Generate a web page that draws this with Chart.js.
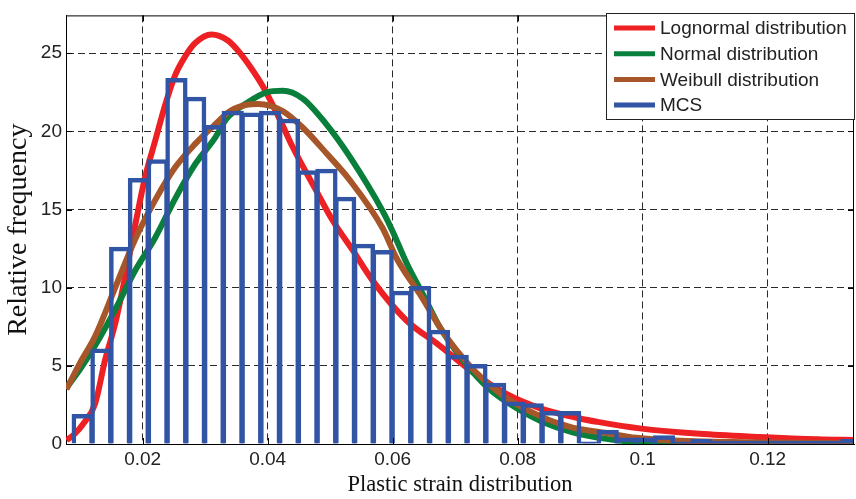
<!DOCTYPE html>
<html>
<head>
<meta charset="utf-8">
<title>Plastic strain distribution</title>
<script src="https://cdn.jsdelivr.net/npm/chart.js@4.4.1/dist/chart.umd.min.js"></script>
<style>
  html, body { margin: 0; padding: 0; background: #fff; }
  #wrap { width: 856px; height: 499px; }
</style>
</head>
<body>
<div id="wrap"><canvas id="chart" width="856" height="499"></canvas></div>
<script>
// MCS histogram: bin centres and relative frequency
const binCenters = [0.0104, 0.0134, 0.0164, 0.0194, 0.0224, 0.0254, 0.0284, 0.0314, 0.0344, 0.0374,
                    0.0404, 0.0434, 0.0464, 0.0494, 0.0524, 0.0554, 0.0584, 0.0614, 0.0644, 0.0674,
                    0.0704, 0.0734, 0.0764, 0.0794, 0.0824, 0.0854, 0.0884, 0.0914, 0.0944, 0.0974,
                    0.1004, 0.1034, 0.1064, 0.1094, 0.1124, 0.1154, 0.1184, 0.1214, 0.1244, 0.1274,
                    0.1304, 0.1334];
const mcsFreq = [1.8, 6.0, 12.5, 16.9, 18.1, 23.3, 22.1, 20.3, 21.2, 21.1,
                 21.2, 20.7, 17.4, 17.5, 15.7, 12.7, 12.3, 9.7, 10.0, 7.2,
                 5.6, 5.0, 3.8, 2.6, 2.5, 2.0, 2.0, 0.05, 0.8, 0.3,
                 0.3, 0.45, 0.05, 0.2, 0.1, 0.1, 0.1, 0.1, 0.1, 0.1,
                 0.1, 0.2];

// fitted curves
const lognormX = [0.0078, 0.0090, 0.0105, 0.0124, 0.0140, 0.0156, 0.0172, 0.0188, 0.0204, 0.0220,
                  0.0236, 0.0252, 0.0268, 0.0284, 0.0310, 0.0337, 0.0358, 0.0371, 0.0392, 0.0419,
                  0.0440, 0.0475, 0.0504, 0.0536, 0.0568, 0.0622, 0.0675, 0.0728, 0.0782, 0.0835,
                  0.0898, 0.0930, 0.0995, 0.1091, 0.1187, 0.1280, 0.1340];
const lognormY = [0.25, 0.6, 1.3, 2.6, 5.4, 7.7, 10.7, 14.0, 17.1, 19.4,
                  21.7, 23.6, 24.8, 25.65, 26.2, 25.8, 24.9, 24.2, 22.9, 20.8,
                  19.0, 16.4, 14.3, 12.4, 10.45, 7.9, 6.3, 4.6, 3.2, 2.3,
                  1.65, 1.4, 1.0, 0.65, 0.45, 0.3, 0.25];

const normalX = [0.0078, 0.0100, 0.0124, 0.0156, 0.0188, 0.0220, 0.0252, 0.0284, 0.0316, 0.0334,
                 0.0366, 0.0398, 0.0424, 0.0456, 0.0494, 0.0531, 0.0584, 0.0600, 0.0622, 0.0648,
                 0.0675, 0.0702, 0.0728, 0.0755, 0.0782, 0.0835, 0.0888, 0.0942, 0.0990, 0.1050,
                 0.1200, 0.1340];
const normalY = [3.6, 4.8, 6.3, 8.6, 11.1, 13.2, 15.7, 17.9, 19.6, 20.8,
                 21.8, 22.5, 22.6, 22.1, 20.45, 18.4, 14.9, 13.6, 11.6, 9.6,
                 7.5, 5.9, 4.6, 3.5, 2.7, 1.5, 0.75, 0.33, 0.12, 0.03,
                 0.0, 0.0];

const weibullX = [0.0078, 0.0100, 0.0124, 0.0156, 0.0188, 0.0220, 0.0252, 0.0284, 0.0316, 0.0340,
                  0.0366, 0.0385, 0.0424, 0.0456, 0.0494, 0.0531, 0.0584, 0.0606, 0.0648, 0.0675,
                  0.0702, 0.0728, 0.0755, 0.0782, 0.0835, 0.0867, 0.0888, 0.0942, 0.0990, 0.1050,
                  0.1200, 0.1340];
const weibullY = [3.5, 5.2, 6.9, 10.0, 13.1, 15.6, 17.7, 19.2, 20.45, 21.3,
                  21.7, 21.75, 21.3, 20.25, 18.6, 16.9, 13.8, 11.9, 9.3, 7.5,
                  6.0, 4.8, 3.8, 2.95, 1.8, 1.3, 1.05, 0.7, 0.4, 0.22,
                  0.1, 0.05];

const xTicks = [0.02, 0.04, 0.06, 0.08, 0.1, 0.12];
const xTickLabels = ['0.02', '0.04', '0.06', '0.08', '0.1', '0.12'];
const yTicks = [0, 5, 10, 15, 20, 25];
const yTickLabels = ['0', '5', '10', '15', '20', '25'];

const seriesNames = ['Lognormal distribution', 'Normal distribution', 'Weibull distribution', 'MCS'];
const seriesColors = ['#ed2024', '#0a7f3c', '#a65628', '#3154a4'];

function toPoints(xs, ys) {
  return xs.map((x, i) => ({ x: x, y: ys[i] }));
}

function curve(idx, xs, ys, order) {
  return {
    type: 'line',
    label: seriesNames[idx],
    data: toPoints(xs, ys),
    borderColor: seriesColors[idx],
    backgroundColor: seriesColors[idx],
    borderWidth: 6,
    pointRadius: 0,
    cubicInterpolationMode: 'monotone',
    fill: false,
    order: order
  };
}

// frame, inward tick marks and the boxed legend in the upper right
const framePlugin = {
  id: 'frame',
  afterDraw(chart) {
    const { ctx, chartArea: a, scales } = chart;
    ctx.save();
    ctx.strokeStyle = '#000';
    ctx.lineWidth = 1;
    ctx.beginPath();
    ctx.moveTo(a.left, a.top + 0.5);
    ctx.lineTo(a.right, a.top + 0.5);
    ctx.moveTo(a.right - 0.5, a.top);
    ctx.lineTo(a.right - 0.5, a.bottom);
    ctx.stroke();

    ctx.beginPath();
    xTicks.forEach(v => {
      const px = Math.round(scales.x.getPixelForValue(v)) + 0.5;
      ctx.moveTo(px, a.bottom); ctx.lineTo(px, a.bottom - 6);
      ctx.moveTo(px, a.top); ctx.lineTo(px, a.top + 6);
    });
    yTicks.forEach(v => {
      const py = Math.round(scales.y.getPixelForValue(v)) + 0.5;
      ctx.moveTo(a.left, py); ctx.lineTo(a.left + 6, py);
      ctx.moveTo(a.right, py); ctx.lineTo(a.right - 6, py);
    });
    ctx.stroke();

    // legend
    const bx = 606.5, by = 13.5, bw = 248, bh = 106;
    ctx.fillStyle = '#fff';
    ctx.fillRect(bx, by, bw, bh);
    ctx.strokeStyle = '#222';
    ctx.strokeRect(bx, by, bw, bh);
    ctx.font = "19px 'Liberation Sans', Arial, sans-serif";
    ctx.textBaseline = 'middle';
    ctx.textAlign = 'left';
    seriesNames.forEach((name, i) => {
      const y = 28 + i * 25.7;
      ctx.strokeStyle = seriesColors[i];
      ctx.lineWidth = 5;
      ctx.beginPath();
      ctx.moveTo(614, y);
      ctx.lineTo(655, y);
      ctx.stroke();
      ctx.fillStyle = '#222';
      ctx.fillText(name, 660, y + 1);
    });
    ctx.restore();
  }
};

Chart.defaults.font.family = "'Liberation Sans', Arial, sans-serif";
Chart.defaults.color = '#222';

new Chart(document.getElementById('chart'), {
  type: 'bar',
  data: {
    datasets: [
      curve(0, lognormX, lognormY, 3),
      curve(1, normalX, normalY, 2),
      curve(2, weibullX, weibullY, 1),
      {
        type: 'bar',
        label: seriesNames[3],
        data: toPoints(binCenters, mcsFreq),
        backgroundColor: 'rgba(0,0,0,0)',
        borderColor: seriesColors[3],
        borderWidth: { top: 1, left: 1, right: 1, bottom: 0 },
        borderSkipped: false,
        inflateAmount: 1.75,
        barPercentage: 1,
        categoryPercentage: 1,
        order: 0
      }
    ]
  },
  options: {
    responsive: false,
    animation: false,
    devicePixelRatio: 1,
    layout: { padding: { top: 5, right: 2, left: 0, bottom: 0 } },
    plugins: {
      legend: { display: false },
      tooltip: { enabled: false }
    },
    scales: {
      x: {
        type: 'linear',
        min: 0.00773,
        max: 0.13381,
        offset: false,
        grid: { color: '#2a2a2a', lineWidth: 1, drawTicks: false, offset: false },
        border: { display: true, color: '#000', width: 1, dash: [7, 4] },
        afterBuildTicks: s => { s.ticks = xTicks.map(v => ({ value: v })); },
        afterFit: s => { s.height = 55; },
        ticks: {
          autoSkip: false,
          maxRotation: 0,
          padding: 4,
          font: { size: 19 },
          callback: (v, i) => xTickLabels[i]
        },
        title: {
          display: true,
          text: 'Plastic strain distribution',
          color: '#111',
          font: { family: "'Liberation Serif', 'Times New Roman', serif", size: 22.5 },
          padding: { top: 0, bottom: 0 }
        }
      },
      y: {
        min: 0,
        max: 27.42,
        grid: { color: '#2a2a2a', lineWidth: 1, drawTicks: false },
        border: { display: true, color: '#000', width: 1, dash: [7, 4] },
        afterBuildTicks: s => { s.ticks = yTicks.map(v => ({ value: v })); },
        afterFit: s => { s.width = 66; },
        ticks: {
          padding: 4,
          font: { size: 19 },
          callback: (v, i) => yTickLabels[i]
        },
        title: {
          display: true,
          text: 'Relative frequency',
          color: '#111',
          font: { family: "'Liberation Serif', 'Times New Roman', serif", size: 28 },
          padding: { top: 2, bottom: 0 }
        }
      }
    }
  },
  plugins: [framePlugin]
});
</script>
</body>
</html>
